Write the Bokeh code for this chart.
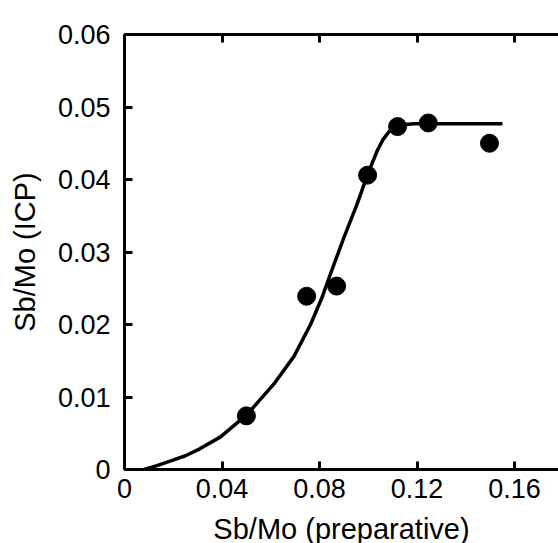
from bokeh.plotting import figure
from bokeh.models import LinearAxis, FixedTicker, Range1d
from bokeh.embed import file_html
from bokeh.resources import INLINE

# Measured points
x_data = [0.050, 0.0747, 0.087, 0.0997, 0.112, 0.1246, 0.1497]
y_data = [0.0074, 0.0239, 0.0253, 0.0406, 0.0473, 0.0478, 0.0450]

# Fitted curve
curve_x = [0.008, 0.013, 0.019, 0.025, 0.030, 0.0394, 0.0503, 0.0613, 0.0695, 0.0763,
           0.0811, 0.0845, 0.0900, 0.0955, 0.0996, 0.1037, 0.1060, 0.1085, 0.1119,
           0.1150, 0.1187, 0.155]
curve_y = [0.0, 0.0005, 0.0012, 0.0019, 0.0027, 0.0045, 0.0076, 0.0118, 0.0156, 0.0200,
           0.0238, 0.0270, 0.0320, 0.0367, 0.0406, 0.0440, 0.0455, 0.0466, 0.0474,
           0.0476, 0.0477, 0.0477]

x_ticks = [0, 0.04, 0.08, 0.12, 0.16]
y_ticks = [0, 0.01, 0.02, 0.03, 0.04, 0.05, 0.06]
x_tick_labels = {0: "0", 0.04: "0.04", 0.08: "0.08", 0.12: "0.12", 0.16: "0.16"}
y_tick_labels = {0: "0", 0.01: "0.01", 0.02: "0.02", 0.03: "0.03", 0.04: "0.04",
                 0.05: "0.05", 0.06: "0.06"}

FONT = "Liberation Sans"

p = figure(frame_width=434, frame_height=435,
           x_range=Range1d(0, 0.178), y_range=Range1d(0, 0.06),
           output_backend="svg", toolbar_location=None,
           min_border_left=124, min_border_top=34, min_border_right=0,
           min_border_bottom=74)
p.outline_line_color = None
p.xgrid.visible = False
p.ygrid.visible = False
p.background_fill_color = "white"
p.border_fill_color = "white"

p.line(curve_x, curve_y, line_color="black", line_width=3.5, line_join="round")
p.scatter(x_data, y_data, size=18, marker="circle", fill_color="black", line_color="black")

def style(ax, ticks, labels):
    ax.ticker = FixedTicker(ticks=ticks)
    ax.major_label_overrides = labels
    ax.axis_line_width = 3
    ax.axis_line_color = "black"
    ax.major_tick_line_width = 3
    ax.major_tick_line_color = "black"
    ax.major_tick_in = 8
    ax.major_tick_out = 0
    ax.minor_tick_line_color = None
    ax.major_label_text_font = FONT
    ax.major_label_text_color = "black"
    ax.major_label_text_font_size = "27px"

xa = p.xaxis[0]
style(xa, x_ticks, x_tick_labels)
xa.major_label_standoff = 9
xa.axis_label = "Sb/Mo (preparative)"
xa.axis_label_text_font = FONT
xa.axis_label_text_font_size = "29px"
xa.axis_label_text_font_style = "normal"
xa.axis_label_text_color = "black"
xa.axis_label_standoff = 12

ya = p.yaxis[0]
style(ya, y_ticks, y_tick_labels)
ya.major_label_standoff = 14
ya.axis_label = "Sb/Mo (ICP)"
ya.axis_label_text_font = FONT
ya.axis_label_text_font_size = "29px"
ya.axis_label_text_font_style = "normal"
ya.axis_label_text_color = "black"
ya.axis_label_standoff = 14

top = LinearAxis()
style(top, x_ticks, {t: "" for t in x_ticks})
top.major_label_standoff = 0
p.add_layout(top, "above")

open("out.html", "w").write(file_html(p, INLINE))
